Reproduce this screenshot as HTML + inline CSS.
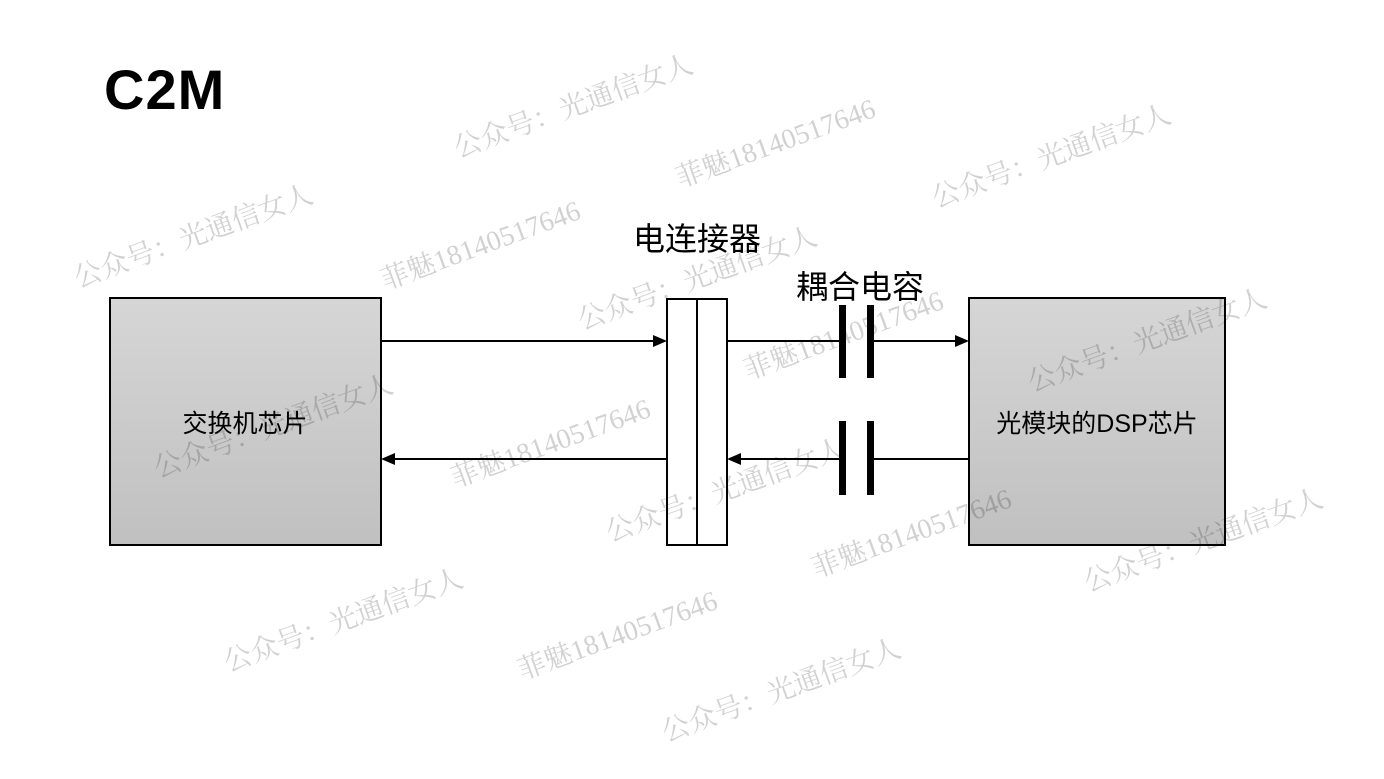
<!DOCTYPE html>
<html><head><meta charset="utf-8"><style>
body{margin:0;background:#fff;}
svg{display:block}
</style></head><body>
<svg width="1384" height="779" xmlns="http://www.w3.org/2000/svg" font-family="'Liberation Sans','Noto Sans CJK SC',sans-serif">
<defs>
<linearGradient id="g" x1="0" y1="0" x2="0" y2="1"><stop offset="0" stop-color="#d6d6d6"/><stop offset="1" stop-color="#c0c0c0"/></linearGradient>
</defs>
<text x="104" y="109" font-size="56" font-weight="bold" letter-spacing="1" fill="#000">C2M</text>
<rect x="110" y="298" width="271" height="247" fill="url(#g)" stroke="#000" stroke-width="2"/>
<rect x="969" y="298" width="256" height="247" fill="url(#g)" stroke="#000" stroke-width="2"/>
<rect x="667" y="299" width="60" height="246" fill="#fff" stroke="#000" stroke-width="2"/>
<line x1="697" y1="299" x2="697" y2="545" stroke="#000" stroke-width="2"/>
<text x="245" y="432" font-size="25" text-anchor="middle" fill="#000">交换机芯片</text>
<text x="1097" y="432" font-size="25" text-anchor="middle" fill="#000">光模块的DSP芯片</text>
<text x="697" y="250" font-size="32" text-anchor="middle" fill="#000">电连接器</text>
<text x="860" y="298" font-size="32" text-anchor="middle" fill="#000">耦合电容</text>
<g stroke="#000" stroke-width="2">
<line x1="381" y1="341" x2="655" y2="341"/>
<line x1="727" y1="341" x2="842" y2="341"/>
<line x1="871" y1="341" x2="957" y2="341"/>
<line x1="393" y1="459" x2="667" y2="459"/>
<line x1="739" y1="459" x2="842" y2="459"/>
<line x1="871" y1="459" x2="969" y2="459"/>
</g>
<g fill="#000">
<polygon points="667,341 653,335 653,347"/>
<polygon points="969,341 955,335 955,347"/>
<polygon points="381,459 395,453 395,465"/>
<polygon points="727,459 741,453 741,465"/>
<rect x="839" y="305" width="7" height="73"/>
<rect x="867" y="305" width="7" height="73"/>
<rect x="839" y="421" width="7" height="74"/>
<rect x="867" y="421" width="7" height="74"/>
</g>
<g fill="#000" fill-opacity="0.18" font-size="28" font-family="'Liberation Serif','Noto Serif CJK SC',serif">
<text transform="translate(458,158) rotate(-20)">公众号：光通信女人</text>
<text transform="translate(680,188) rotate(-20)">菲魅18140517646</text>
<text transform="translate(936,208) rotate(-20)">公众号：光通信女人</text>
<text transform="translate(78,288) rotate(-20)">公众号：光通信女人</text>
<text transform="translate(385,290) rotate(-20)">菲魅18140517646</text>
<text transform="translate(582,330) rotate(-20)">公众号：光通信女人</text>
<text transform="translate(748,380) rotate(-20)">菲魅18140517646</text>
<text transform="translate(1032,392) rotate(-20)">公众号：光通信女人</text>
<text transform="translate(158,478) rotate(-20)">公众号：光通信女人</text>
<text transform="translate(455,488) rotate(-20)">菲魅18140517646</text>
<text transform="translate(610,542) rotate(-20)">公众号：光通信女人</text>
<text transform="translate(816,578) rotate(-20)">菲魅18140517646</text>
<text transform="translate(1088,592) rotate(-20)">公众号：光通信女人</text>
<text transform="translate(228,672) rotate(-20)">公众号：光通信女人</text>
<text transform="translate(522,680) rotate(-20)">菲魅18140517646</text>
<text transform="translate(666,742) rotate(-20)">公众号：光通信女人</text>
</g>
</svg>
</body></html>
